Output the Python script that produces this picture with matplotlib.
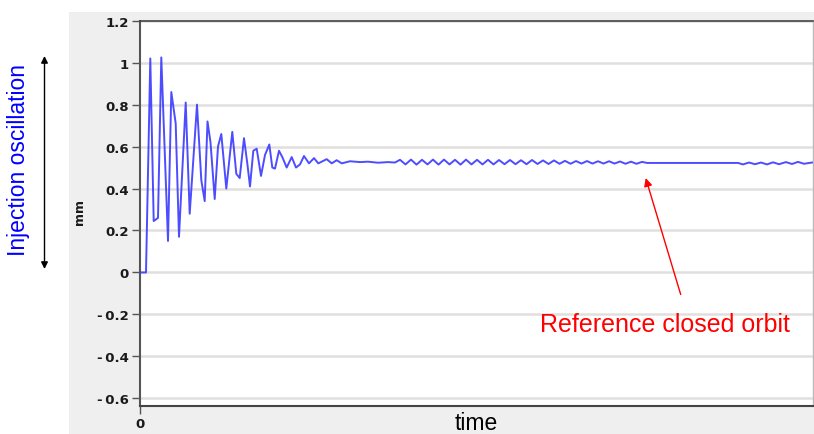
import matplotlib.pyplot as plt
from matplotlib.patches import Rectangle

# orbit readings (time in arbitrary units, position in mm)
time = [0, 6, 10.3, 13.7, 18, 21.3, 28, 31.3, 35.7, 39, 45.7, 49.7, 57, 61.3, 64.7,
        67.5, 70.5, 74.7, 78, 81.3, 86.3, 92.3, 96.3, 99.7, 104, 107.3, 110, 113.3,
        116.7, 121, 125, 129.3, 132.3, 135, 139, 142.3, 146.7, 151.7, 156, 160, 164,
        169, 174, 178.3, 186.7, 191.7, 196.7, 201.7, 210, 220, 228, 238, 248, 255,
        260, 265.5, 271, 276.5, 282, 287.5, 293, 298.5, 304, 309.5, 315, 320.5, 326,
        331.5, 337, 342.5, 348, 353.5, 359, 364.5, 370, 375.5, 381, 386.5, 392,
        397.5, 403, 408.5, 414, 419.5, 425, 430.5, 436, 441.5, 447, 452.5, 458,
        463.5, 469, 474.5, 480, 485.5, 491, 496.5, 502, 507, 598, 603, 609, 615,
        621, 627, 633, 639, 646, 652, 658, 664, 672]
orbit = [0.0, 0.0, 1.02, 0.245, 0.26, 1.025, 0.15, 0.86, 0.71, 0.17, 0.81, 0.28, 0.80,
         0.44, 0.34, 0.72, 0.62, 0.35, 0.60, 0.66, 0.40, 0.67, 0.47, 0.45, 0.64, 0.52,
         0.41, 0.58, 0.59, 0.46, 0.56, 0.61, 0.50, 0.495, 0.58, 0.55, 0.50, 0.55, 0.50,
         0.515, 0.555, 0.52, 0.545, 0.52, 0.54, 0.52, 0.535, 0.52, 0.530, 0.526, 0.528,
         0.523, 0.526, 0.524, 0.537, 0.515, 0.538, 0.514, 0.537, 0.515, 0.538, 0.514,
         0.538, 0.515, 0.537, 0.514, 0.538, 0.515, 0.537, 0.515, 0.537, 0.515, 0.536,
         0.516, 0.536, 0.516, 0.535, 0.516, 0.536, 0.517, 0.534, 0.517, 0.534, 0.518,
         0.532, 0.518, 0.531, 0.519, 0.531, 0.519, 0.530, 0.519, 0.530, 0.519, 0.529,
         0.518, 0.528, 0.518, 0.527, 0.522, 0.522, 0.515, 0.524, 0.516, 0.524, 0.515,
         0.525, 0.516, 0.526, 0.517, 0.527, 0.518, 0.524]

y_ticks = [-0.6, -0.4, -0.2, 0, 0.2, 0.4, 0.6, 0.8, 1, 1.2]
y_labels = ['-\u20090.6', '-\u20090.4', '-\u20090.2', '0', '0.2', '0.4', '0.6', '0.8', '1', '1.2']

W, H = 814, 435
fig = plt.figure(figsize=(W / 100, H / 100), dpi=100)
fig.patch.set_facecolor('white')
# grey panel behind the plot
fig.patches.append(Rectangle((69 / W, 0), 1 - 69 / W, 1 - 12.7 / H, transform=fig.transFigure,
                             facecolor='#efefef', edgecolor='none', zorder=-5))

ax = fig.add_axes([140 / W, 1 - 407.3 / H, 673 / W, (407.3 - 21.7) / H])
ax.set_zorder(1)
ax.set_facecolor('white')
ax.plot(time, orbit, color='#3a3aff', lw=1.4, alpha=0.9, zorder=3)

ax.set_xlim(0, 673)
ax.set_ylim(-0.638, 1.2)
ax.set_yticks(y_ticks)
ax.set_yticklabels(y_labels)
ax.set_xticks([0])
ax.set_xticklabels(['0'])
for lab in ax.get_yticklabels() + ax.get_xticklabels():
    lab.set_fontweight('bold')
    lab.set_fontsize(9.5)
    lab.set_color('#1a1a1a')
ax.tick_params(axis='y', length=6, width=1, color='#555555', pad=2)
ax.tick_params(axis='x', length=6, width=1, color='#555555', pad=2)

ax.yaxis.grid(True, color='#e2dede', lw=1.8)
ax.set_axisbelow(True)
ax.spines['left'].set_color('#555555')
ax.spines['left'].set_linewidth(1.5)
ax.spines['bottom'].set_color('#444444')
ax.spines['bottom'].set_linewidth(1.5)
ax.spines['top'].set_color('#444444')
ax.spines['top'].set_linewidth(1.2)
ax.spines['right'].set_color('#bbbbbb')
ax.spines['right'].set_linewidth(1)

fig.text(79 / W, 1 - 212 / H, 'mm', rotation=90, fontsize=9, fontweight='bold',
         ha='center', va='center', color='#1a1a1a')
fig.text(476 / W, 5 / H, 'time', fontsize=16.5, family='Liberation Sans',
         ha='center', va='baseline')

# annotations
fig.text(19 / W, 1 - 160 / H, 'Injection oscillation', rotation=90, fontsize=16.5,
         family='Liberation Sans', color='#0000ff', ha='center', va='center')
ax.annotate('', xy=(44.5 / W, 1 - 57 / H), xytext=(44.5 / W, 1 - 270 / H),
            xycoords='figure fraction', textcoords='figure fraction',
            arrowprops=dict(arrowstyle='<|-|>', color='black', lw=1,
                            mutation_scale=10, shrinkA=0, shrinkB=0),
            annotation_clip=False)
ax.annotate('', xy=(505.7, 0.45), xytext=(540.7, -0.105),
            arrowprops=dict(arrowstyle='-|>', color='red', lw=1,
                            mutation_scale=12, shrinkA=0, shrinkB=0))
ax.text(525, -0.245, 'Reference closed orbit', color='red', fontsize=18,
        family='Liberation Sans', ha='center', va='center')

fig.savefig('out.png', dpi=100)
